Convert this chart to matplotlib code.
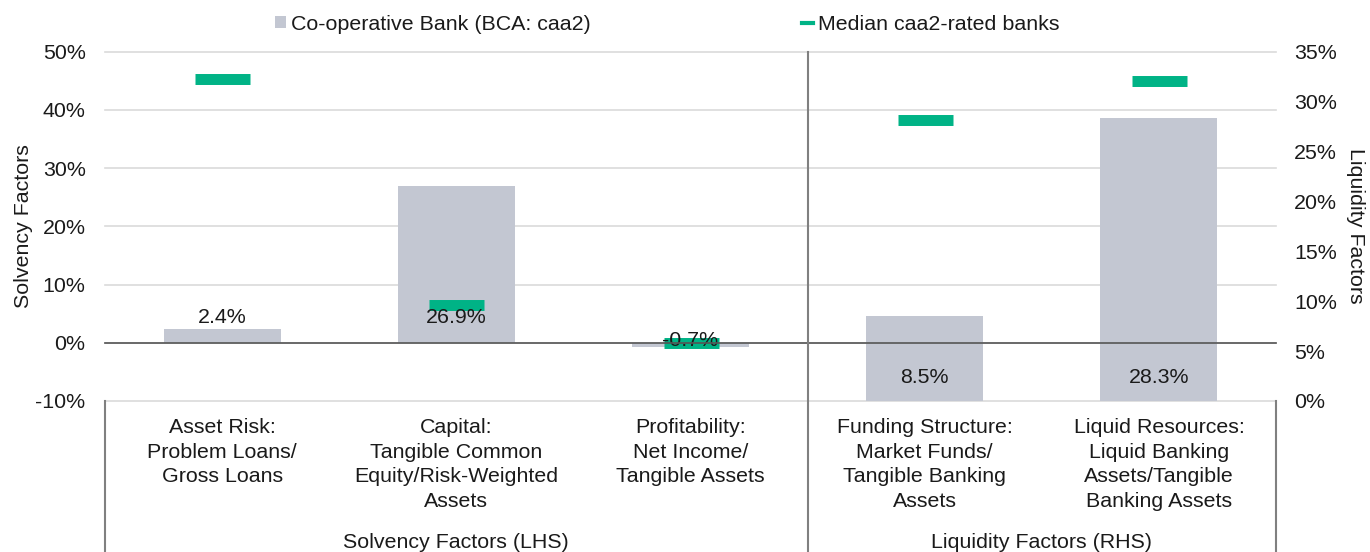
import matplotlib
matplotlib.use("Agg")
import matplotlib.pyplot as plt
import matplotlib.transforms as mtrans
from matplotlib.lines import Line2D
from matplotlib.patches import Patch
from matplotlib.ticker import PercentFormatter

plt.rcParams['font.family'] = ['Liberation Sans', 'DejaVu Sans']
plt.rcParams['axes.unicode_minus'] = False

categories = ["Asset Risk:\nProblem Loans/\nGross Loans",
              "Capital:\nTangible Common\nEquity/Risk-Weighted\nAssets",
              "Profitability:\nNet Income/\nTangible Assets",
              "Funding Structure:\nMarket Funds/\nTangible Banking\nAssets",
              "Liquid Resources:\nLiquid Banking\nAssets/Tangible\nBanking Assets"]
groups = ["Solvency Factors (LHS)", "Liquidity Factors (RHS)"]

# solvency (left axis) and liquidity (right axis) values, in %
bank_left = [2.4, 26.9, -0.7]
median_left = [45.2, 6.4, -0.1]
bank_right = [8.5, 28.3]
median_right = [28.1, 32.0]

left_ticks = [-10, 0, 10, 20, 30, 40, 50]
right_ticks = [0, 5, 10, 15, 20, 25, 30, 35]

bar_col = "#C3C7D2"
green = "#00B386"
txt = "#1a1a1a"
fs = 15.4

fig = plt.figure(figsize=(13.7, 5.52), dpi=100)
ax = fig.add_axes([105/1370, 1 - 401/552, (1276-105)/1370, (401-51.5)/552])
ax2 = ax.twinx()

xl = list(range(len(bank_left)))
xr = [len(bank_left) + i for i in range(len(bank_right))]

ax.bar(xl, bank_left, width=0.5, color=bar_col, zorder=2)
ax.plot(xl, median_left, ls='none', marker='_', ms=39.6, mew=7.9, color=green, zorder=3)
ax2.bar(xr, bank_right, width=0.5, color=bar_col, zorder=2)
ax2.plot(xr, median_right, ls='none', marker='_', ms=39.6, mew=7.9, color=green, zorder=3)

# data labels near the base of each bar
for x, v in zip(xl, bank_left):
    off = 18.0 if v >= 0 else 1.5
    ax.annotate(f"{v:.1f}%", (x, 0), xytext=(0, off), textcoords='offset points',
                ha='center', va='center', fontsize=fs, color=txt, zorder=5)
for x, v in zip(xr, bank_right):
    ax2.annotate(f"{v:.1f}%", (x, 0), xytext=(0, 16.8), textcoords='offset points',
                 ha='center', va='center', fontsize=fs, color=txt, zorder=5)

ax.set_xlim(-0.5, len(categories) - 0.5)
ax.set_ylim(-10, 50)
ax2.set_ylim(0, 35)
ax.set_yticks(left_ticks)
ax2.set_yticks(right_ticks)
ax.yaxis.set_major_formatter(PercentFormatter(decimals=0))
ax2.yaxis.set_major_formatter(PercentFormatter(decimals=0))
ax.grid(axis='y', color='#DADADA', lw=1.2, zorder=0)
ax.set_axisbelow(True)
for gl in ax.get_ygridlines():
    gl.set_clip_on(False)

for a in (ax, ax2):
    for s in a.spines.values():
        s.set_visible(False)
ax.tick_params(axis='y', length=0, pad=14, labelsize=fs, labelcolor=txt)
ax2.tick_params(axis='y', length=0, pad=13, labelsize=fs, labelcolor=txt)

ax.set_xticks(range(len(categories)))
ax.set_xticklabels(categories, fontsize=fs, color=txt, linespacing=1.37)
ax.tick_params(axis='x', length=0, pad=12.5)

ax.set_ylabel("Solvency Factors", fontsize=fs, color=txt, labelpad=2)
ax2.set_ylabel("Liquidity Factors", fontsize=fs, color=txt, rotation=270, labelpad=20)

# zero line of the left axis, drawn on top of the right bars
zt = mtrans.blended_transform_factory(ax2.transAxes, ax.transData)
ax2.plot([0, 1], [0, 0], color='#555555', lw=1.2, transform=zt, zorder=4, clip_on=False)

# group separators and group labels below the axis
xt = ax2.get_xaxis_transform()
ax2.plot([2.5, 2.5], [1, -0.44], color='#808080', lw=1.5, transform=xt, clip_on=False, zorder=4)
for xv in (-0.5, 4.5):
    ax2.plot([xv, xv], [0, -0.44], color='#808080', lw=1.5, transform=xt, clip_on=False, zorder=4)
ax2.text(1.0, -0.405, groups[0], transform=xt, ha='center', va='center', fontsize=fs, color=txt)
ax2.text(3.5, -0.405, groups[1], transform=xt, ha='center', va='center', fontsize=fs, color=txt)

handles = [Patch(facecolor=bar_col, edgecolor='none'),
           Line2D([], [], color=green, lw=3)]
fig.legend(handles, ["Co-operative Bank (BCA: caa2)", "Median caa2-rated banks"],
           loc='center left', bbox_to_anchor=(275/1370, 1 - 24/552), ncol=2, frameon=False,
           fontsize=fs, handlelength=0.53, handleheight=0.53, handletextpad=0.2,
           columnspacing=9.9, borderaxespad=0, borderpad=0, labelcolor=txt)

fig.savefig("out.png", dpi=100)
